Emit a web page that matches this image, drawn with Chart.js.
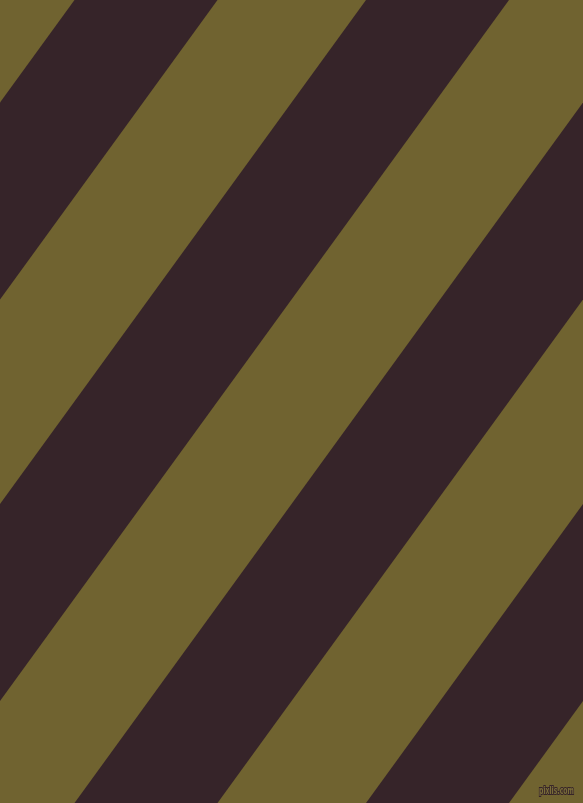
<!DOCTYPE html>
<html>
<head>
<meta charset="utf-8">
<script src="https://cdn.jsdelivr.net/npm/chart.js@4.4.0/dist/chart.umd.min.js"></script>
<style>
  html, body { margin: 0; padding: 0; background: #706330; overflow: hidden; }
  #wrap { width: 583px; height: 803px; }
</style>
</head>
<body>
<div id="wrap"><canvas id="chart" width="583" height="803"></canvas></div>
<script>
// where each dark stripe crosses the top edge (y = 0) and the bottom edge (y = 803)
const stripeTopLeft = [74.5, 366, 657.5, 949];
const stripeTopRight = [217.5, 509, 800.5, 1092];
const stripeBottomLeft = [-508.5, -217, 74.5, 366];
const stripeBottomRight = [-365.5, -74, 217.5, 509];

const olive = "#706330";
const dark = "#362429";

document.addEventListener("DOMContentLoaded", function () {
    const ctx = document.getElementById("chart").getContext("2d");

    const datasets = stripeTopLeft.map(function (left, i) {
        return {
            label: "stripe " + (i + 1),
            data: [
                { x: left, y: 0 },
                { x: stripeTopRight[i], y: 0 },
                { x: stripeBottomRight[i], y: 803 },
                { x: stripeBottomLeft[i], y: 803 },
                { x: left, y: 0 },
            ],
            showLine: true,
            fill: "shape",
            backgroundColor: dark,
            borderColor: dark,
            borderWidth: 0,
            pointRadius: 0,
            tension: 0,
        };
    });

    const background = {
        id: "background",
        beforeDraw: function (chart) {
            const c = chart.ctx;
            c.save();
            c.fillStyle = olive;
            c.fillRect(0, 0, chart.width, chart.height);
            c.restore();
        },
        afterDraw: function (chart) {
            // small site mark in the corner
            const c = chart.ctx;
            c.save();
            c.font = "bold 10px 'DejaVu Sans'";
            c.textAlign = "right";
            c.textBaseline = "alphabetic";
            c.lineWidth = 2;
            c.strokeStyle = dark;
            c.strokeText("pixlis.com", 574, 794, 35);
            c.fillStyle = "#7b6e3a";
            c.fillText("pixlis.com", 574, 794, 35);
            c.restore();
        },
    };

    new Chart(ctx, {
        type: "scatter",
        data: { datasets: datasets },
        options: {
            responsive: false,
            animation: false,
            layout: { padding: 0 },
            scales: {
                x: { type: "linear", min: 0, max: 583, display: false },
                y: { type: "linear", min: 0, max: 803, reverse: true, display: false },
            },
            plugins: {
                legend: { display: false },
                tooltip: { enabled: false },
            },
        },
        plugins: [background],
    });
});
</script>
</body>
</html>
